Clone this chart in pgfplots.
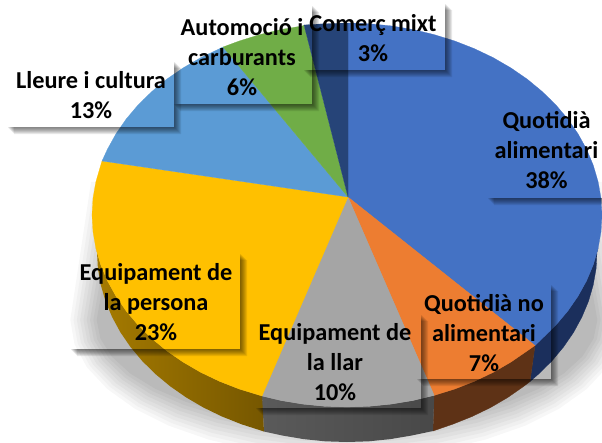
\documentclass[border=0pt]{standalone}
\usepackage{pgfplots}
\usepackage{pgfplotstable}
\usepackage{fontspec}
\setmainfont{Carlito}
\pgfplotsset{compat=1.18}
\tikzset{lab/.style={font=\bfseries\fontsize{24.3}{30}\selectfont, align=center, text=black, inner sep=0pt}}
\definecolor{cBlue}{HTML}{4472C4}
\definecolor{cOrange}{HTML}{ED7D31}
\definecolor{cGray}{HTML}{A5A5A5}
\definecolor{cYellow}{HTML}{FFC000}
\definecolor{cLight}{HTML}{5B9BD5}
\definecolor{cGreen}{HTML}{70AD47}
\definecolor{cNavy}{HTML}{264478}
\definecolor{sBlue}{HTML}{1B2F5C}
\definecolor{sOrange}{HTML}{5E3216}
\definecolor{sGrayA}{HTML}{5A5A5A}
\definecolor{sGrayB}{HTML}{484848}
\definecolor{sY1}{HTML}{A67B00}
\definecolor{sY4}{HTML}{765700}
\pgfplotstableread{
u v
0.925 -1
1 0
.985 .174
.940 .342
.866 .5
.766 .643
.643 .766
.5 .866
.342 .940
.174 .985
0 1
-.174 .985
-.342 .940
-.5 .866
-.643 .766
-.766 .643
-.866 .5
-.940 .342
-.985 .174
-1 0
-0.925 -1
}\shadowoutline
% L-shaped drop shadow layer outside a label box
\newcommand{\shL}[5]{%
\fill[black,fill opacity=.085]
 ([yshift=-#1pt]axis cs:#4,#3) -- ([xshift=#1pt,yshift=-#1pt]axis cs:#4,#3) --
 ([xshift=#1pt,yshift=-#1pt]axis cs:#4,#5) -- ([xshift=#1pt,yshift=-#1pt]axis cs:#2,#5) --
 ([xshift=#1pt]axis cs:#2,#5) -- (axis cs:#4,#5) -- cycle;}
\newcommand{\boxsh}[4]{\shL{1}{#1}{#2}{#3}{#4}\shL{2}{#1}{#2}{#3}{#4}\shL{3}{#1}{#2}{#3}{#4}\shL{4}{#1}{#2}{#3}{#4}\shL{5}{#1}{#2}{#3}{#4}\shL{6}{#1}{#2}{#3}{#4}\shL{7}{#1}{#2}{#3}{#4}}
\begin{document}
\begin{tikzpicture}
\useasboundingbox (0,0) rectangle (602pt,442pt);
\begin{axis}[
 scale only axis, width=602pt, height=442pt,
 xmin=0, xmax=602, ymin=0, ymax=442, y dir=reverse,
 axis lines=none, clip=true]

% soft shadow on the ground
\pgfplotsinvokeforeach{3,6,9,12,15,18,21,24,27}{
\addplot[fill=black!#1, draw=none] table[x expr={347+(280-1.1*#1)*\thisrow{u}}, y expr={320+(142-1.3*#1)*\thisrow{v}}] {\shadowoutline} -- cycle;
}

% sides
\addplot[fill=sBlue,draw=sBlue,line width=.3pt] coordinates {(598.1,248.3)(593.3,264.7)(586.6,280.7)(578.1,296.1)(567.8,311)(555.9,325.1)(542.3,338.4)(535,345.5)(530,381.5)(538.5,374.1)(551.8,361)(563.5,347)(573.6,332.3)(581.9,317)(588.5,301.2)(593.2,285)(596.1,268.6)(597,252)} -- cycle;
\addplot[fill=sOrange,draw=sOrange,line width=.3pt] coordinates {(535,345.5)(527.3,350.8)(510.9,362.1)(493.3,372.3)(474.5,381.3)(454.8,389)(434.2,395.4)(433,431)(452.7,424.2)(472,416.5)(490.4,407.6)(507.7,397.5)(523.8,386.3)(530,381.5)} -- cycle;
\addplot[left color=sGrayA,right color=sGrayB,draw=none] coordinates {(434.2,395.4)(413,400.5)(391.3,404.1)(369.2,406.3)(347,407)(324.8,406.3)(302.7,404.1)(281,400.5)(262,396)(264,431.5)(282.3,435.5)(303.6,439.1)(325.2,441.3)(347,442)(368.8,441.3)(390.4,439.1)(411.7,435.5)(433,431)} -- cycle;
\addplot[left color=sY1,right color=sY4,draw=none] coordinates {(262,396)(239.2,389)(219.5,381.3)(200.7,372.3)(183.1,362.1)(166.7,350.8)(151.7,338.4)(138.1,325.1)(126.2,311)(115.9,296.1)(107.4,280.7)(100.7,264.7)(95.9,248.3)(97,252)(97.9,268.6)(100.8,285)(105.5,301.2)(112.1,317)(120.4,332.3)(130.5,347)(142.2,361)(155.5,374.1)(170.2,386.3)(186.3,397.5)(203.6,407.6)(222,416.5)(241.3,424.2)(264,431.5)} -- cycle;

% top face: shares of the pie
\addplot[fill=cBlue,draw=cBlue,line width=.2pt] coordinates {(348,197)(348,23)(369.2,23.7)(391.3,25.9)(413,29.5)(434.2,34.6)(454.8,41)(474.5,48.7)(493.3,57.7)(510.9,67.9)(527.3,79.2)(542.3,91.6)(555.9,104.9)(567.8,119)(578.1,133.9)(586.6,149.3)(593.3,165.3)(598.1,181.7)(601,198.3)(602,215)(601,231.7)(598.1,248.3)(593.3,264.7)(586.6,280.7)(578.1,296.1)(567.8,311)(555.9,325.1)(542.3,338.4)(535,345.5)} -- cycle;
\addplot[fill=cOrange,draw=cOrange,line width=.2pt] coordinates {(348,197)(535,345.5)(527.3,350.8)(510.9,362.1)(493.3,372.3)(474.5,381.3)(454.8,389)(434.2,395.4)} -- cycle;
\addplot[fill=cGray,draw=cGray,line width=.2pt] coordinates {(348,197)(434.2,395.4)(413,400.5)(391.3,404.1)(369.2,406.3)(347,407)(324.8,406.3)(302.7,404.1)(281,400.5)(262,396)} -- cycle;
\addplot[fill=cYellow,draw=cYellow,line width=.2pt] coordinates {(348,197)(262,396)(239.2,389)(219.5,381.3)(200.7,372.3)(183.1,362.1)(166.7,350.8)(151.7,338.4)(138.1,325.1)(126.2,311)(115.9,296.1)(107.4,280.7)(100.7,264.7)(95.9,248.3)(93,231.7)(92,215)(93,198.3)(95.9,181.7)(100.7,165.3)(102,161)} -- cycle;
\addplot[fill=cLight,draw=cLight,line width=.2pt] coordinates {(348,197)(102,161)(107.4,149.3)(115.9,133.9)(126.2,119)(138.1,104.9)(151.7,91.6)(166.7,79.2)(183.1,67.9)(200.7,57.7)(219.5,48.7)(223,47)} -- cycle;
\addplot[fill=cGreen,draw=cGreen,line width=.2pt] coordinates {(348,197)(223,47)(239.2,41)(259.8,34.6)(281,29.5)(302.7,25.9)(304,25)} -- cycle;
\addplot[fill=cNavy,draw=cNavy,line width=.2pt] coordinates {(348,197)(304,25)(324.8,23.7)(348,23)} -- cycle;

% label box shadows
\boxsh{173}{5}{312}{104}
\boxsh{303}{3}{445}{70}
\boxsh{7}{61}{174}{127}
\boxsh{487}{99}{612}{198}
\boxsh{416}{284}{551}{379}
\boxsh{255}{314}{421}{408}
\boxsh{70}{253}{240}{349}

% labels
\node[lab] at (axis cs:91,95.5) {Lleure i cultura\\13\%};
\node[lab] at (axis cs:242,57.5) {Automoció i\\carburants\\6\%};
\node[lab] at (axis cs:373,38) {Comerç mixt\\3\%};
\node[lab] at (axis cs:546.5,150.5) {Quotidià\\alimentari\\38\%};
\node[lab] at (axis cs:484,333) {Quotidià no\\alimentari\\7\%};
\node[lab] at (axis cs:335,362.5) {Equipament de\\la llar\\10\%};
\node[lab] at (axis cs:156,302) {Equipament de\\la persona\\23\%};
\end{axis}
\end{tikzpicture}
\end{document}
